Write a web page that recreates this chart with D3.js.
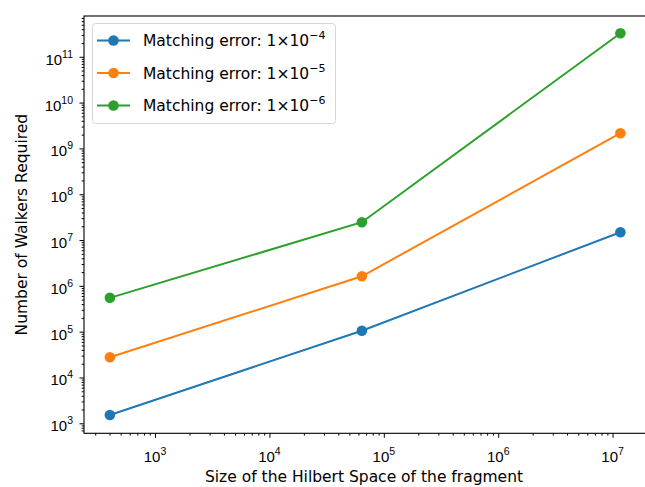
<!DOCTYPE html>
<html>
<head>
<meta charset="utf-8">
<script src="https://cdn.jsdelivr.net/npm/d3@7"></script>
<style>
  html, body { margin: 0; padding: 0; background: #fff; }
  svg { display: block; font-family: "DejaVu Sans", sans-serif; }
</style>
</head>
<body>
<svg id="chart" width="645" height="487"></svg>
<script>
// ---- data ----
const hilbertSizes = [403, 64300, 11700000];
const seriesNames = ["Matching error: 1×10", "Matching error: 1×10", "Matching error: 1×10"];
const seriesExponents = ["−4", "−5", "−6"];
const walkers4 = [1520, 105000, 14800000];
const walkers5 = [27600, 1620000, 2150000000];
const walkers6 = [547000, 24500000, 327000000000];
const seriesColors = ["#1f77b4", "#ff7f0e", "#2ca02c"];
const xTickExps = [3, 4, 5, 6, 7];
const yTickExps = [3, 4, 5, 6, 7, 8, 9, 10, 11];
const xLabel = "Size of the Hilbert Space of the fragment";
const yLabel = "Number of Walkers Required";

const series = [walkers4, walkers5, walkers6].map((vals, i) => ({
  name: seriesNames[i], exp: seriesExponents[i], color: seriesColors[i],
  points: vals.map((v, j) => ({x: hilbertSizes[j], y: v}))
}));

// ---- layout ----
const svg = d3.select("#chart");
const pLeft = 84, pTop = 16, pRight = 646, pBottom = 433.3;

const x = d3.scaleLog().domain([Math.pow(10, 2.379), Math.pow(10, 7.292)]).range([pLeft, pRight]);
const y = d3.scaleLog().domain([Math.pow(10, 2.782), Math.pow(10, 11.89)]).range([pBottom, pTop]);

function minorTicks(scale) {
  const [a, b] = scale.domain();
  const out = [];
  for (let e = Math.floor(Math.log10(a)); e <= Math.ceil(Math.log10(b)); e++) {
    for (let m = 2; m <= 9; m++) {
      const v = m * Math.pow(10, e);
      if (v >= a && v <= b) out.push(v);
    }
  }
  return out;
}

const textColor = "#000";
const fs = 15.5;
const tfs = 15;
const sfs = 10.5;

// X axis
const gx = svg.append("g").attr("transform", `translate(0,${pBottom})`);
gx.call(d3.axisBottom(x).tickValues(minorTicks(x)).tickSize(2.3).tickFormat(""))
  .call(g => g.select(".domain").remove());
gx.append("g").call(d3.axisBottom(x).tickValues(xTickExps.map(e => Math.pow(10, e))).tickSize(4.5).tickFormat(""))
  .call(g => g.select(".domain").remove());
gx.selectAll(".tick line").attr("stroke", "#000").attr("stroke-width", 1);
xTickExps.forEach(e => {
  const t = gx.append("text").attr("x", x(Math.pow(10, e))).attr("y", 28.5)
    .attr("text-anchor", "middle").attr("fill", textColor).attr("font-size", tfs);
  t.append("tspan").text("10");
  t.append("tspan").attr("dy", -7).attr("font-size", sfs).text(String(e));
});

// Y axis
const gy = svg.append("g").attr("transform", `translate(${pLeft},0)`);
gy.call(d3.axisLeft(y).tickValues(minorTicks(y)).tickSize(2.3).tickFormat(""))
  .call(g => g.select(".domain").remove());
gy.append("g").call(d3.axisLeft(y).tickValues(yTickExps.map(e => Math.pow(10, e))).tickSize(4.5).tickFormat(""))
  .call(g => g.select(".domain").remove());
gy.selectAll(".tick line").attr("stroke", "#000").attr("stroke-width", 1);
yTickExps.forEach(e => {
  const t = gy.append("text").attr("x", -11).attr("y", y(Math.pow(10, e)) + 8)
    .attr("text-anchor", "end").attr("fill", textColor).attr("font-size", tfs);
  t.append("tspan").text("10");
  t.append("tspan").attr("dy", -7).attr("font-size", sfs).text(String(e));
});

// Lines and markers
const line = d3.line().x(d => x(d.x)).y(d => y(d.y));
series.forEach(s => {
  svg.append("path").datum(s.points).attr("d", line)
    .attr("fill", "none").attr("stroke", s.color).attr("stroke-width", 2);
  svg.selectAll(null).data(s.points).enter().append("circle")
    .attr("cx", d => x(d.x)).attr("cy", d => y(d.y)).attr("r", 5.3).attr("fill", s.color);
});

// Spines
svg.append("rect").attr("x", pLeft).attr("y", pTop).attr("width", pRight - pLeft).attr("height", pBottom - pTop)
  .attr("fill", "none").attr("stroke", "#000").attr("stroke-width", 1.1);

// Axis labels
svg.append("text").attr("x", (pLeft + pRight) / 2 - 1).attr("y", 482)
  .attr("text-anchor", "middle").attr("font-size", fs).attr("fill", textColor).text(xLabel);
svg.append("text").attr("transform", `translate(26.5,${(pTop + pBottom) / 2}) rotate(-90)`)
  .attr("text-anchor", "middle").attr("font-size", fs).attr("fill", textColor).text(yLabel);

// Legend
const lg = svg.append("g");
lg.append("rect").attr("x", 92.5).attr("y", 23.5).attr("width", 243).attr("height", 100).attr("rx", 3)
  .attr("fill", "#fff").attr("fill-opacity", 0.8).attr("stroke", "#d6d6d6").attr("stroke-width", 1);
series.forEach((s, i) => {
  const cy = 40.5 + i * 32.5;
  lg.append("line").attr("x1", 97).attr("x2", 130).attr("y1", cy).attr("y2", cy)
    .attr("stroke", s.color).attr("stroke-width", 2);
  lg.append("circle").attr("cx", 113.5).attr("cy", cy).attr("r", 5.3).attr("fill", s.color);
  const t = lg.append("text").attr("x", 143).attr("y", cy + 5.5).attr("font-size", fs).attr("fill", textColor);
  t.append("tspan").text(s.name);
  t.append("tspan").attr("dy", -7).attr("font-size", sfs + 0.5).text(s.exp);
});
</script>
</body>
</html>
